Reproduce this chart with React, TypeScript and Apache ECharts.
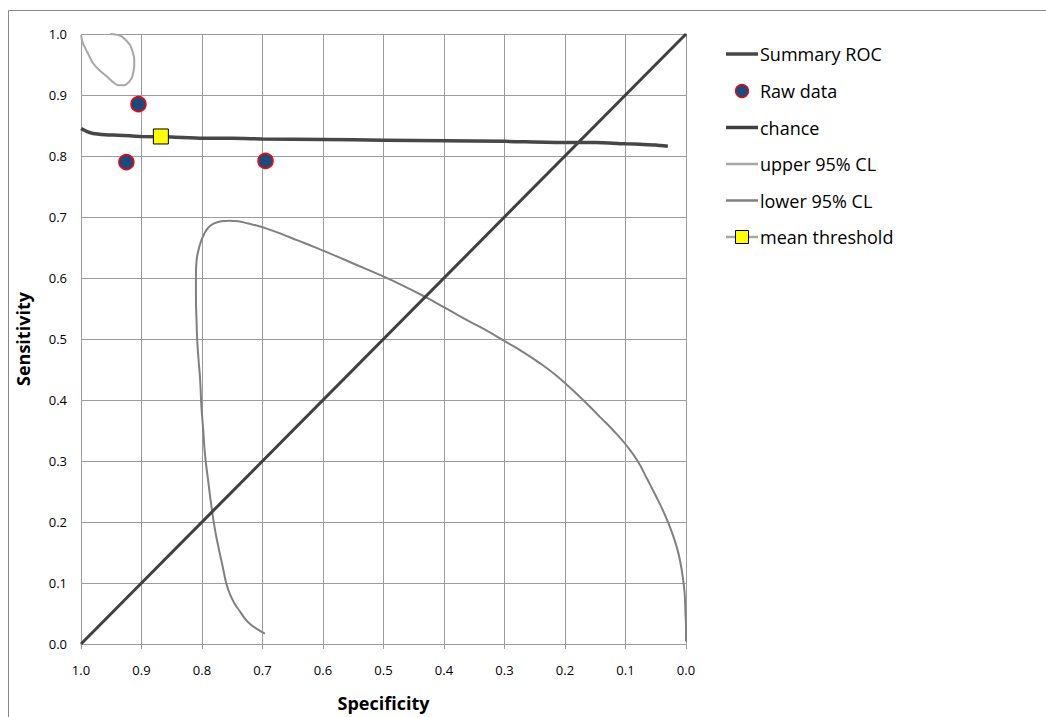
import React, { useEffect, useRef } from "react";
import * as echarts from "echarts";

const legendNames = ["Summary ROC", "Raw data", "chance", "upper 95% CL", "lower 95% CL", "mean threshold"];

const summaryROC: [number, number][] = [
  [1.0, 0.845], [0.99, 0.84], [0.98, 0.837], [0.96, 0.835], [0.94, 0.834], [0.92, 0.833],
  [0.9, 0.832], [0.85, 0.831], [0.8, 0.829], [0.75, 0.829], [0.7, 0.828], [0.6, 0.827],
  [0.5, 0.826], [0.4, 0.825], [0.3, 0.824], [0.2, 0.822], [0.15, 0.822], [0.1, 0.82],
  [0.07, 0.819], [0.05, 0.818], [0.03, 0.816],
];

const rawData: [number, number][] = [
  [0.905, 0.885], [0.925, 0.79], [0.695, 0.792],
];

const chance: [number, number][] = [[1, 0], [0, 1]];

const upperCL: [number, number][] = [
  [1.0, 0.998], [0.997, 0.985], [0.993, 0.977], [0.987, 0.965], [0.98, 0.952],
  [0.97, 0.941], [0.958, 0.931], [0.948, 0.922], [0.938, 0.916], [0.929, 0.916],
  [0.922, 0.92], [0.916, 0.928], [0.914, 0.936], [0.912, 0.948], [0.912, 0.958],
  [0.915, 0.972], [0.919, 0.982], [0.926, 0.99], [0.933, 0.996], [0.942, 0.999], [0.952, 1.0],
];

const lowerCL: [number, number][] = [
  [0.696, 0.017], [0.708, 0.024], [0.721, 0.033], [0.73, 0.043], [0.737, 0.053],
  [0.746, 0.066], [0.754, 0.082], [0.76, 0.1], [0.765, 0.123], [0.772, 0.155],
  [0.779, 0.19], [0.785, 0.23], [0.79, 0.269], [0.795, 0.31], [0.798, 0.351],
  [0.801, 0.39], [0.803, 0.432], [0.806, 0.47], [0.808, 0.5], [0.809, 0.53],
  [0.81, 0.565], [0.81, 0.605], [0.809, 0.628], [0.806, 0.645], [0.802, 0.659],
  [0.797, 0.671], [0.79, 0.682], [0.781, 0.689], [0.768, 0.693], [0.754, 0.694],
  [0.74, 0.693], [0.726, 0.69], [0.71, 0.686], [0.693, 0.681], [0.668, 0.672],
  [0.643, 0.662], [0.615, 0.651], [0.588, 0.64], [0.548, 0.623], [0.506, 0.605],
  [0.473, 0.59], [0.431, 0.569], [0.398, 0.551], [0.362, 0.531], [0.33, 0.514],
  [0.299, 0.496], [0.27, 0.479], [0.241, 0.46], [0.218, 0.443], [0.197, 0.425],
  [0.17, 0.4], [0.142, 0.372], [0.12, 0.35], [0.098, 0.325], [0.08, 0.3],
  [0.065, 0.272], [0.05, 0.243], [0.035, 0.212], [0.024, 0.185], [0.015, 0.158],
  [0.009, 0.132], [0.005, 0.107], [0.002, 0.08], [0.001, 0.053], [0.0, 0.025], [0.0, 0.004],
];

const meanThreshold: [number, number][] = [[0.868, 0.832]];

const FONT = "'Open Sans', Lato, sans-serif";

export default function App() {
  const ref = useRef<HTMLDivElement>(null);
  useEffect(() => {
    document.body.style.margin = "0";
    const chart = echarts.init(ref.current!, null, { renderer: "svg" });
    const gridColor = "#9c9c9c";

    const lx0 = 726;
    const lx1 = 758;
    const ltx = 760;
    const rowY = [54, 91, 127.5, 164, 200.5, 237];
    const legendGraphics: any[] = [];
    const lineStyles = [
      { stroke: "#474747", lineWidth: 3.5 },
      null,
      { stroke: "#404040", lineWidth: 3.5 },
      { stroke: "#a6a6a6", lineWidth: 2.5 },
      { stroke: "#808080", lineWidth: 2.5 },
      { stroke: "#a6a6a6", lineWidth: 2.5 },
    ];
    legendNames.forEach((name, i) => {
      const y = rowY[i];
      const ls = lineStyles[i];
      if (ls) {
        legendGraphics.push({
          type: "line",
          shape: { x1: lx0, y1: y, x2: lx1, y2: y },
          style: { stroke: ls.stroke, lineWidth: ls.lineWidth },
          silent: true,
        });
      }
      if (i === 1) {
        legendGraphics.push({
          type: "circle",
          shape: { cx: (lx0 + lx1) / 2, cy: y, r: 6.5 },
          style: { fill: "#1f497d", stroke: "#ff0000", lineWidth: 1.2 },
          silent: true,
        });
      }
      if (i === 5) {
        legendGraphics.push({
          type: "rect",
          shape: { x: (lx0 + lx1) / 2 - 6.5, y: y - 6.5, width: 13, height: 13 },
          style: { fill: "#ffff00", stroke: "#000", lineWidth: 1 },
          silent: true,
        });
      }
      legendGraphics.push({
        type: "text",
        x: ltx,
        y: y,
        style: {
          text: name,
          fill: "#000",
          font: `18px ${FONT}`,
          verticalAlign: "middle",
          align: "left",
        },
        silent: true,
      });
    });

    chart.setOption({
      animation: false,
      backgroundColor: "#ffffff",
      textStyle: { fontFamily: FONT },
      grid: { left: 81, right: 360, top: 34, bottom: 68, containLabel: false },
      graphic: [
        {
          type: "rect",
          shape: { x: 8.5, y: 10.5, width: 1100, height: 800 },
          style: { fill: "none", stroke: "#8a8a8a", lineWidth: 1 },
          silent: true,
        },
        ...legendGraphics,
      ],
      xAxis: {
        type: "value",
        min: 0,
        max: 1,
        interval: 0.1,
        inverse: true,
        name: "Specificity",
        nameLocation: "middle",
        nameGap: 50,
        nameTextStyle: { fontSize: 18, fontWeight: "bold", color: "#000", fontFamily: FONT },
        axisLine: { show: true, lineStyle: { color: gridColor, width: 1 } },
        axisTick: { show: true, length: 5, lineStyle: { color: gridColor } },
        axisLabel: {
          fontSize: 13,
          color: "#000",
          margin: 19,
          formatter: (v: number) => v.toFixed(1),
        },
        splitLine: { show: true, lineStyle: { color: gridColor, width: 1 } },
      },
      yAxis: {
        type: "value",
        min: 0,
        max: 1,
        interval: 0.1,
        name: "Sensitivity",
        nameLocation: "middle",
        nameGap: 49,
        nameTextStyle: { fontSize: 18, fontWeight: "bold", color: "#000", fontFamily: FONT },
        axisLine: { show: true, lineStyle: { color: gridColor, width: 1 } },
        axisTick: { show: true, length: 5, lineStyle: { color: gridColor } },
        axisLabel: {
          fontSize: 13,
          color: "#000",
          margin: 14,
          formatter: (v: number) => v.toFixed(1),
        },
        splitLine: { show: true, lineStyle: { color: gridColor, width: 1 } },
      },
      series: [
        {
          name: "Summary ROC",
          type: "line",
          data: summaryROC,
          symbol: "none",
          smooth: 0.2,
          lineStyle: { color: "#474747", width: 3.5 },
          z: 4,
        },
        {
          name: "Raw data",
          type: "scatter",
          data: rawData,
          symbol: "circle",
          symbolSize: 15,
          itemStyle: { color: "#1f497d", borderColor: "#ff0000", borderWidth: 1.5, opacity: 1 },
          z: 6,
        },
        {
          name: "chance",
          type: "line",
          data: chance,
          symbol: "none",
          lineStyle: { color: "#404040", width: 3 },
          z: 3,
        },
        {
          name: "upper 95% CL",
          type: "line",
          data: upperCL,
          symbol: "none",
          smooth: 0.3,
          lineStyle: { color: "#a6a6a6", width: 2 },
          z: 2,
        },
        {
          name: "lower 95% CL",
          type: "line",
          data: lowerCL,
          symbol: "none",
          smooth: 0.5,
          lineStyle: { color: "#808080", width: 2 },
          z: 2,
        },
        {
          name: "mean threshold",
          type: "line",
          data: meanThreshold,
          symbol: "rect",
          symbolSize: 15,
          showSymbol: true,
          lineStyle: { color: "#a6a6a6", width: 2 },
          itemStyle: { color: "#ffff00", borderColor: "#000000", borderWidth: 1 },
          z: 7,
        },
      ],
    });
    return () => chart.dispose();
  }, []);
  return <div ref={ref} style={{ width: 1046, height: 717 }} />;
}
